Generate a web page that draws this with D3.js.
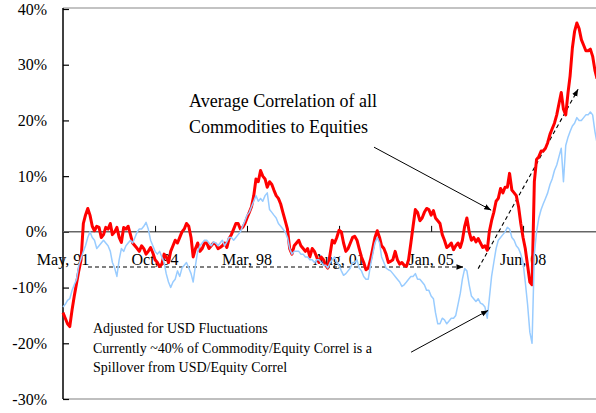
<html>
<head>
<script src="https://cdnjs.cloudflare.com/ajax/libs/d3/7.9.0/d3.min.js"></script>
<style>
  body { margin: 0; background: #fff; }
  text { font-family: "Liberation Serif", "Times New Roman", serif; fill: #000; }
</style>
</head>
<body onload="main()">
</body>
<script>
  // monthly readings starting May 1991
  const startDate = new Date(1991, 4, 1)
  const stepMonths = 1
  const avgCorrel = [
    -14.5, -15.5, -16.5, -17, -14, -11.5, -9.2, -7, -5, 1.5,
    3, 4.2, 3, 1, 0.2, 1, 0.8, -1, -0.5, 0.8,
    0.5, 1.5, -0.5, 0, 0.8, -1, -1.9, 0.8, 0.5, 1,
    -0.5, -2, -2.5, -3, -3.5, -2.5, -3, -4, -3.5, -2.8,
    -3.8, -5, -5.5, -6.2, -5.8, -4, -4.5, -5.5, -3.5, -2.5,
    -1.5, -2, -1, 0, 0.5, 1.5, 1, -1, -4.5, -3,
    -2, -3.5, -3, -2, -2, -3, -2.5, -2, -2.2, -3,
    -2.8, -2.5, -2, -2.8, -1.2, -0.5, 0.5, 1.5, 1.5, 0.5,
    0.8, 1.5, 2.5, 3.5, 4.5, 6.5, 9.5, 9, 11, 10,
    9.5, 8, 9, 8.5, 7.5, 6.5, 6, 5, 3.5, 2,
    0.5, -3, -4, -2.5, -2, -1.5, -2.5, -3, -3.5, -3,
    -4.5, -3, -3.5, -4.5, -5.5, -4.5, -5, -6, -6.5, -4,
    -1.5, -2, -1, 0.3, 0, -2, -3.5, -3, -2, -1,
    -0.8, -1.5, -3, -4.5, -5.5, -6.8, -6.5, -5, -3, -1,
    0.2, -1, -2.5, -3, -4, -5.5, -5.3, -5, -3.5, -5,
    -5.8, -5.5, -6, -6.2, -5, -2, 1, 4, 3.5, 2,
    2.5, 3.5, 4.2, 4, 3, 3.8, 2.5, 2, 1.5, -0.5,
    -1.5, -2.8, -2.5, -2, -3.2, -2.5, -2, -2.8, -1.5, 1,
    2.5, 0, -1.5, -1, -1.8, -1.2, -2, -2.8, -2.5, -3.3,
    0, 2, 3.5, 5.5, 6, 7.8, 7, 8, 8, 10.5,
    7.5, 7, 6.5, 4.5, 1.5, -1, -3, -6, -9, -9.5,
    9, 13, 13.5, 14.5, 14.5, 15, 16, 17.5, 18.5, 19.5,
    21, 23, 25, 22, 21, 25, 28, 33, 36, 37.5,
    36.5, 34.5, 33.5, 32.5, 32.5, 32.8, 31.5, 29, 27.5
  ]
  const usdAdjusted = [
    -13.5, -13, -12.3, -12, -10.5, -9.5, -8.5, -6, -4.8, -3.5,
    -2.5, -1, 0, -1, -1.5, -3, -2.5, -2, -1.5, -2,
    -2.5, -3.5, -5.5, -6.5, -8, -5, -3, -3.5, -2.5, -2,
    -1.5, -2, -1, 0, 0.5, 0.5, 1, 1.7, 0.5, -1.5,
    -2.5, -3.5, -4, -3.5, -4.5, -5.5, -7.5, -9, -10, -9,
    -8.5, -7, -8, -6.5, -6, -5.5, -6.5, -7.5, -9, -6,
    -3.5, -2.5, -2, -1.5, -1.5, -2, -2.5, -1.8, -2, -2.5,
    -2, -1.5, -2.5, -1.8, -1, -1, -1.5, -1, -0.5, 0,
    1, 2, 3, 3.5, 4.5, 5.5, 6.5, 5.5, 6, 5.5,
    6.5, 7, 4, 3.5, 3, 2.5, 1.5, 1, 0.5, 0,
    -1, -3, -4, -3.5, -3.5, -3.5, -4, -4, -4.5, -4.5,
    -5, -5, -5.5, -5, -5, -5.5, -6, -6, -6.5, -5.5,
    -5, -4.5, -5.5, -6, -7, -7.8, -7.5, -7, -6.5, -5.5,
    -5.5, -5, -6.5, -7, -8, -8.5, -8.5, -6, -4, -2,
    -1, -2, -4.5, -5.5, -6.5, -6.8, -7, -7.5, -8, -8.5,
    -9, -9.8, -9.5, -9, -8.5, -8, -8, -7.5, -8.5, -8.5,
    -9, -9.5, -10.5, -10.5, -11.5, -12, -14.5, -16.5, -16.5, -15.5,
    -15.8, -16.5, -16, -15.5, -15.5, -15, -13, -11, -8.5, -6.6,
    -7, -9.5, -11.5, -12, -12.5, -12, -12.8, -13, -13.5, -15.5,
    -12, -8, -5.5, -3, -1.5, -1, -0.5, 0, 0.8, 0.5,
    -1, -1.5, -2.5, -3, -4, -5.5, -9, -13, -18, -20,
    -4, 0, 2.5, 4, 5, 6, 7, 8.5, 9.5, 11,
    12, 13.5, 15, 9, 15.5, 17, 18, 19, 19.5, 20.5,
    20, 20, 20.5, 21, 21, 21.5, 21, 18, 16
  ]
  const yTicks = [-30, -20, -10, 0, 10, 20, 30, 40]
  const xTickDates = ['1991-05', '1994-10', '1998-03', '2001-08', '2005-01', '2008-06']
  const noteTop = ['Average Correlation of all', 'Commodities to Equities']
  const noteBottom = ['Adjusted for USD Fluctuations', 'Currently ~40% of Commodity/Equity Correl is a', 'Spillover from USD/Equity Correl']

  function main() {
    const width = 596
    const height = 413
    const left = 63, right = 597, top = 9, bottom = 399

    const dates = avgCorrel.map((v, i) => d3.timeMonth.offset(startDate, i * stepMonths))
    const x = d3.scaleTime([startDate, dates[dates.length - 1]], [left, right])
    const y = d3.scaleLinear([-30, 40], [bottom, top])
    const yr = t => new Date(Math.floor(t), 0, 1 + (t % 1) * 365.25)
    const parseMonth = d3.timeParse('%Y-%m')

    const svg = d3.select('body').append('svg')
      .attr('width', width)
      .attr('height', height)

    svg.append('defs').append('marker')
      .attr('id', 'head')
      .attr('viewBox', '0 0 10 10')
      .attr('refX', 10).attr('refY', 5)
      .attr('markerWidth', 7).attr('markerHeight', 7)
      .attr('markerUnits', 'userSpaceOnUse')
      .attr('orient', 'auto')
      .append('path')
      .attr('d', 'M0,1L10,5L0,9z')
      .attr('fill', '#000')

    // frame
    svg.append('line').attr('x1', left).attr('x2', width).attr('y1', top - 1).attr('y2', top - 1)
      .attr('stroke', '#888').attr('stroke-width', 1.2)
    svg.append('line').attr('x1', left).attr('x2', width).attr('y1', bottom).attr('y2', bottom)
      .attr('stroke', '#aaa').attr('stroke-width', 1.5)

    // y axis, ticks point inward
    const yAxis = svg.append('g')
      .attr('transform', `translate(${left},0)`)
      .call(d3.axisRight(y).tickValues(yTicks).tickSize(6).tickFormat(''))
    yAxis.select('.domain').attr('d', `M0,${top - 1}V${bottom}`).attr('stroke-width', 1.5)
    yAxis.selectAll('.tick line').attr('stroke-width', 1.2)
    svg.append('g').selectAll('text')
      .data(yTicks)
      .enter()
      .append('text')
      .attr('x', 47)
      .attr('y', d => y(d))
      .attr('dy', '0.35em')
      .attr('text-anchor', 'end')
      .style('font-size', '16px')
      .text(d => d + '%')

    // zero line with date ticks
    const xAxis = svg.append('g')
      .attr('transform', `translate(0,${y(0)})`)
      .call(d3.axisTop(x).tickValues(xTickDates.slice(1).map(parseMonth)).tickSize(6).tickFormat(''))
    xAxis.select('.domain').attr('d', `M${left},0H${width}`).attr('stroke', '#666').attr('stroke-width', 1.5)
    xAxis.selectAll('.tick line').attr('stroke', '#000')
    svg.append('g').selectAll('text')
      .data(xTickDates.map(parseMonth))
      .enter()
      .append('text')
      .attr('x', d => x(d))
      .attr('y', 265)
      .attr('text-anchor', 'middle')
      .style('font-size', '16px')
      .text(d3.timeFormat('%b, %y'))

    // dashed trend guides
    svg.append('line')
      .attr('x1', x(yr(1992.26))).attr('y1', y(-6.3))
      .attr('x2', x(yr(2006.2))).attr('y2', y(-6.3))
      .attr('stroke', '#000').attr('stroke-width', 1.1)
      .attr('stroke-dasharray', '4,3')
      .attr('marker-end', 'url(#head)')
    svg.append('line')
      .attr('x1', x(yr(2006.75))).attr('y1', y(-6.6))
      .attr('x2', x(yr(2010.46))).attr('y2', y(25.6))
      .attr('stroke', '#000').attr('stroke-width', 1.1)
      .attr('stroke-dasharray', '4,3')
      .attr('marker-end', 'url(#head)')

    const line = d3.line()
      .x((v, i) => x(dates[i]))
      .y(v => y(v))

    svg.append('path')
      .datum(avgCorrel)
      .attr('d', line)
      .attr('fill', 'none')
      .attr('stroke', '#ff0000')
      .attr('stroke-width', 3)
      .attr('stroke-linejoin', 'round')
    svg.append('path')
      .datum(usdAdjusted)
      .attr('d', line)
      .attr('fill', 'none')
      .attr('stroke', '#99ccff')
      .attr('stroke-width', 1.5)
      .attr('stroke-linejoin', 'round')

    // callouts
    svg.append('line')
      .attr('x1', x(yr(2002.88))).attr('y1', y(15.2))
      .attr('x2', x(yr(2007.23))).attr('y2', y(3.9))
      .attr('stroke', '#000').attr('stroke-width', 1)
      .attr('marker-end', 'url(#head)')
    svg.append('line')
      .attr('x1', x(yr(2004.26))).attr('y1', y(-21.6))
      .attr('x2', x(yr(2007.12))).attr('y2', y(-14.1))
      .attr('stroke', '#000').attr('stroke-width', 1)
      .attr('marker-end', 'url(#head)')

    svg.append('g').selectAll('text')
      .data(noteTop)
      .enter()
      .append('text')
      .attr('x', 189)
      .attr('y', (d, i) => 107 + i * 26)
      .style('font-size', '18px')
      .text(d => d)
    svg.append('g').selectAll('text')
      .data(noteBottom)
      .enter()
      .append('text')
      .attr('x', 93)
      .attr('y', (d, i) => 333 + i * 19.5)
      .style('font-size', '14px')
      .text(d => d)
  }
</script>
</html>
